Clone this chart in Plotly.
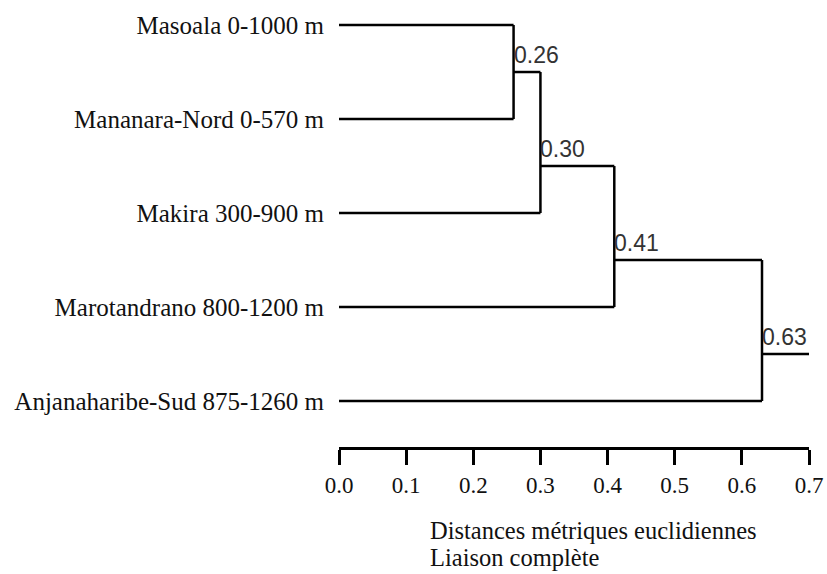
import plotly.graph_objects as go

# ---- data ----
leaf_labels = [
    "Masoala 0-1000 m",
    "Mananara-Nord 0-570 m",
    "Makira 300-900 m",
    "Marotandrano 800-1200 m",
    "Anjanaharibe-Sud 875-1260 m",
]
merge_heights = [0.26, 0.30, 0.41, 0.63]
merge_labels = ["0.26", "0.30", "0.41", "0.63"]
# each merge joins the previous cluster (or leaf 0) with the next leaf
merge_right_leaf = [1, 2, 3, 4]
root_end = 0.70
x_ticks = [0.0, 0.1, 0.2, 0.3, 0.4, 0.5, 0.6, 0.7]
axis_title_lines = ["Distances métriques euclidiennes", "Liaison complète"]

SERIF = "Liberation Serif, Times New Roman, serif"
SANS = "Liberation Sans, Arial, sans-serif"

# ---- build dendrogram segments ----
xs, ys = [], []
prev_x, prev_y = 0.0, 0.0  # left child: leaf 0
node_pos = []
for h, leaf in zip(merge_heights, merge_right_leaf):
    xs += [prev_x, h, None]
    ys += [prev_y, prev_y, None]
    xs += [0.0, h, None]
    ys += [leaf, leaf, None]
    xs += [h, h, None]
    ys += [prev_y, leaf, None]
    node_y = leaf - 0.5
    node_pos.append((h, node_y))
    prev_x, prev_y = h, node_y
xs += [prev_x, root_end, None]
ys += [prev_y, prev_y, None]

fig = go.Figure()
fig.add_trace(go.Scatter(x=xs, y=ys, mode="lines",
                         line=dict(color="black", width=2.5),
                         hoverinfo="skip", showlegend=False))

for (h, ny), lab in zip(node_pos, merge_labels):
    fig.add_annotation(x=h, y=ny, text=lab, showarrow=False,
                       xanchor="left", yanchor="bottom", xshift=-2, yshift=2,
                       font=dict(family=SANS, size=23, color="#333"))

for line_text, yy in zip(axis_title_lines, [-0.188, -0.249]):
    fig.add_annotation(xref="paper", yref="paper", x=0.189, y=yy,
                       xanchor="left", yanchor="middle", align="left",
                       text=line_text, showarrow=False,
                       font=dict(family=SERIF, size=24.5, color="#111"))

fig.update_layout(
    width=827, height=574,
    margin=dict(l=339, r=18, t=5, b=127),
    paper_bgcolor="white", plot_bgcolor="white",
    xaxis=dict(range=[0, 0.7], tickvals=x_ticks, tickformat=".1f",
               showline=True, linecolor="black", linewidth=2.5,
               ticks="outside", ticklen=15, tickwidth=2.5, tickcolor="black",
               ticklabelstandoff=1,
               showgrid=False, zeroline=False,
               tickfont=dict(family=SERIF, size=23, color="#111")),
    yaxis=dict(range=[4.489, -0.213], tickvals=list(range(len(leaf_labels))),
               ticktext=leaf_labels, showline=False, showgrid=False,
               zeroline=False, ticks="", ticklabelstandoff=14,
               tickfont=dict(family=SERIF, size=25, color="#111")),
)

fig.write_html("out.html", config={"displayModeBar": False},
               post_script="document.body.style.margin='0';document.body.style.overflow='hidden';")
